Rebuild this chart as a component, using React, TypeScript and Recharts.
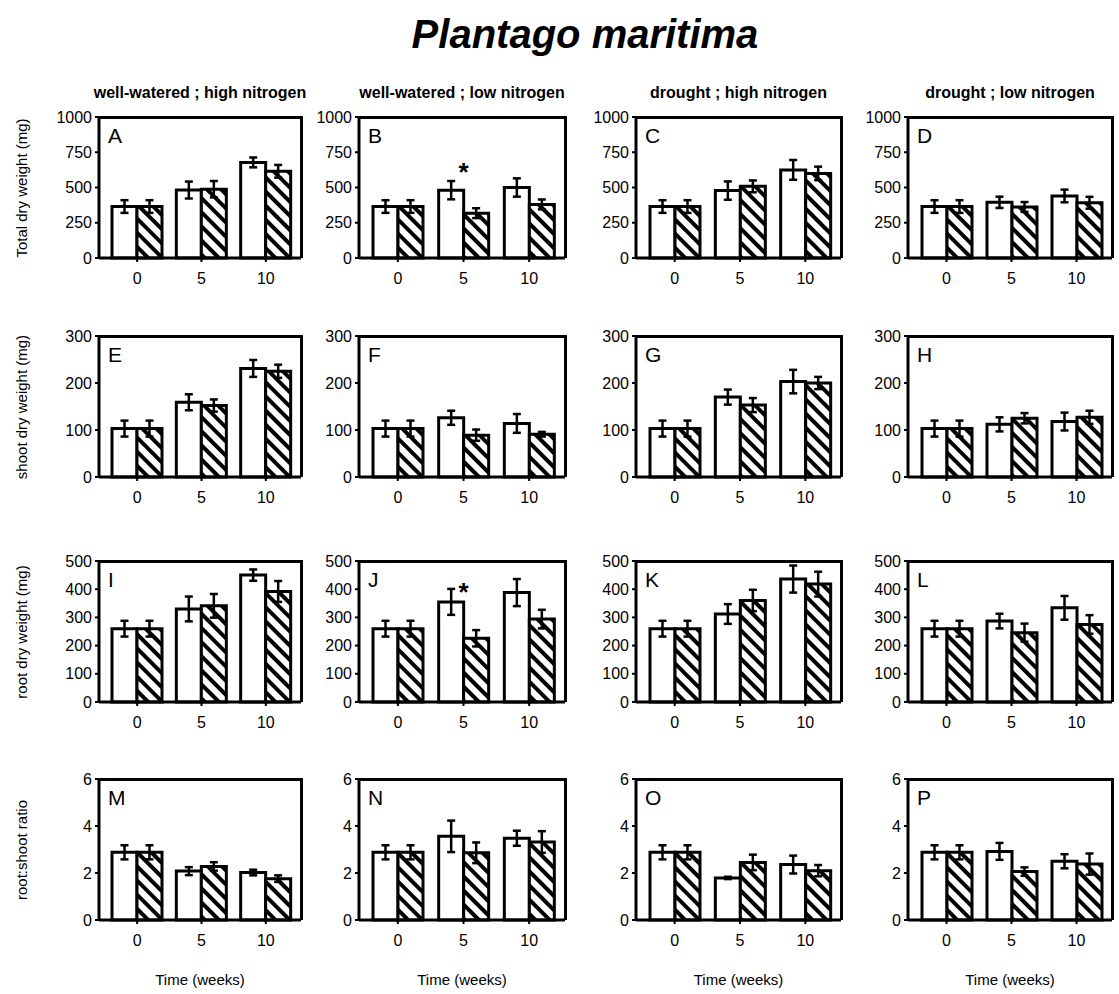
import React from "react";
import { BarChart, Bar, XAxis, YAxis, ErrorBar, ReferenceDot } from "recharts";

const weeks = ["0", "5", "10"];
const columnTitles = [
  "well-watered ; high nitrogen",
  "well-watered ; low nitrogen",
  "drought ; high nitrogen",
  "drought ; low nitrogen",
];
const panelLetters = [
  ["A", "B", "C", "D"],
  ["E", "F", "G", "H"],
  ["I", "J", "K", "L"],
  ["M", "N", "O", "P"],
];
const rowLabels = ["Total dry weight (mg)", "shoot dry weight (mg)", "root dry weight (mg)", "root:shoot ratio"];
const rowTicks = [
  [0, 250, 500, 750, 1000],
  [0, 100, 200, 300],
  [0, 100, 200, 300, 400, 500],
  [0, 2, 4, 6],
];

// one inner array per column (A..D, E..H, ...), values at weeks 0, 5, 10
const totalWhite = [[365, 482, 678], [365, 481, 500], [365, 478, 625], [365, 395, 440]];
const totalWhiteErr = [[45, 60, 35], [45, 65, 65], [45, 65, 70], [45, 40, 45]];
const totalHatch = [[365, 488, 615], [365, 318, 380], [365, 508, 600], [365, 362, 392]];
const totalHatchErr = [[45, 58, 45], [45, 35, 35], [45, 42, 48], [45, 35, 42]];

const shootWhite = [[103, 159, 231], [103, 126, 114], [103, 170, 203], [103, 112, 118]];
const shootWhiteErr = [[17, 17, 18], [17, 15, 20], [17, 16, 25], [17, 15, 19]];
const shootHatch = [[103, 152, 225], [103, 89, 91], [103, 153, 200], [103, 125, 127]];
const shootHatchErr = [[17, 13, 14], [17, 12, 5], [17, 15, 13], [17, 11, 14]];

const rootWhite = [[260, 330, 450], [260, 355, 388], [260, 312, 436], [260, 287, 334]];
const rootWhiteErr = [[28, 44, 20], [28, 46, 48], [28, 35, 48], [28, 26, 42]];
const rootHatch = [[260, 341, 392], [260, 226, 294], [260, 360, 418], [260, 246, 275]];
const rootHatchErr = [[28, 42, 37], [28, 29, 33], [28, 38, 44], [28, 32, 33]];

const ratioWhite = [[2.88, 2.08, 2.02], [2.88, 3.56, 3.48], [2.88, 1.79, 2.36], [2.88, 2.92, 2.5]];
const ratioWhiteErr = [[0.3, 0.17, 0.12], [0.3, 0.67, 0.32], [0.3, 0.05, 0.38], [0.3, 0.36, 0.3]];
const ratioHatch = [[2.88, 2.28, 1.76], [2.88, 2.86, 3.32], [2.88, 2.45, 2.1], [2.88, 2.06, 2.38]];
const ratioHatchErr = [[0.3, 0.18, 0.14], [0.3, 0.44, 0.46], [0.3, 0.33, 0.24], [0.3, 0.18, 0.45]];

const stars = [
  { row: 0, col: 1, week: "5", value: 640 },
  { row: 2, col: 1, week: "5", value: 405 },
];

const rowSeries = [
  [totalWhite, totalWhiteErr, totalHatch, totalHatchErr],
  [shootWhite, shootWhiteErr, shootHatch, shootHatchErr],
  [rootWhite, rootWhiteErr, rootHatch, rootHatchErr],
  [ratioWhite, ratioWhiteErr, ratioHatch, ratioHatchErr],
];

const FONT = "'Liberation Sans', Arial, sans-serif";
const colLeft = [99, 359, 636, 908];
const colWidth = [202, 206, 205, 204];
const rowTop = [117, 336, 561, 779];
const PLOT_H = 141;
const Y_W = 50;
const M_TOP = 12;
const M_RIGHT = 4;
const X_H = 32;

const Star = (props: any) => (
  <text x={props.cx} y={props.cy + 13} textAnchor="middle" fontSize={26} fontWeight="bold" fontFamily={FONT}>
    *
  </text>
);

const Panel = ({ r, c }: { r: number; c: number }) => {
  const [w, we, h, he] = rowSeries[r];
  const data = weeks.map((wk, i) => ({
    week: wk,
    white: w[c][i],
    whiteErr: we[c][i],
    hatch: h[c][i],
    hatchErr: he[c][i],
  }));
  const ticks = rowTicks[r];
  const pid = `hatch-${r}-${c}`;
  const axis = { stroke: "#000", strokeWidth: 3 };
  const tickStyle = { fontSize: 16, fill: "#000", fontFamily: FONT };
  return (
    <div style={{ position: "absolute", left: colLeft[c] - Y_W, top: rowTop[r] - M_TOP }}>
      <BarChart
        width={Y_W + colWidth[c] + M_RIGHT}
        height={M_TOP + PLOT_H + X_H}
        data={data}
        margin={{ top: M_TOP, right: M_RIGHT, left: 0, bottom: 0 }}
        barGap={0}
      >
        <defs>
          <pattern id={pid} patternUnits="userSpaceOnUse" width={10} height={10} patternTransform="rotate(-45)">
            <rect width={10} height={10} fill="#fff" />
            <rect width={4} height={10} fill="#000" />
          </pattern>
        </defs>
        <XAxis
          dataKey="week"
          padding={{ left: 6, right: 3 }}
          height={X_H}
          axisLine={axis}
          tickLine={{ stroke: "#000", strokeWidth: 2 }}
          tickSize={4}
          tickMargin={11}
          tick={tickStyle}
        />
        <YAxis
          domain={[ticks[0], ticks[ticks.length - 1]]}
          ticks={ticks}
          interval={0}
          width={Y_W}
          axisLine={axis}
          tickLine={{ stroke: "#000", strokeWidth: 2 }}
          tickSize={4}
          tickMargin={3}
          tick={tickStyle}
        />
        <Bar dataKey="white" barSize={25} fill="#fff" stroke="#000" strokeWidth={3} isAnimationActive={false}>
          <ErrorBar dataKey="whiteErr" width={4} stroke="#000" strokeWidth={2.5} isAnimationActive={false} />
        </Bar>
        <Bar dataKey="hatch" barSize={25} fill={`url(#${pid})`} stroke="#000" strokeWidth={3} isAnimationActive={false}>
          <ErrorBar dataKey="hatchErr" width={4} stroke="#000" strokeWidth={2.5} isAnimationActive={false} />
        </Bar>
        {stars
          .filter((s) => s.row === r && s.col === c)
          .map((s, i) => (
            <ReferenceDot key={i} x={s.week} y={s.value} r={0} shape={Star} />
          ))}
      </BarChart>
      {/* top and right frame of the plot area */}
      <div
        style={{
          position: "absolute",
          left: Y_W,
          top: M_TOP - 1.5,
          width: colWidth[c] + 1.5,
          height: PLOT_H + 1.5,
          boxSizing: "border-box",
          borderTop: "3px solid #000",
          borderRight: "3px solid #000",
          pointerEvents: "none",
        }}
      />
      <div
        style={{
          position: "absolute",
          left: Y_W + 9,
          top: M_TOP + 8,
          fontSize: 21,
          lineHeight: "21px",
          fontFamily: FONT,
        }}
      >
        {panelLetters[r][c]}
      </div>
    </div>
  );
};

export default function App() {
  return (
    <div
      style={{
        position: "absolute",
        left: 0,
        top: 0,
        width: 1119,
        height: 994,
        background: "#fff",
        fontFamily: FONT,
        color: "#000",
      }}
    >
      <div
        style={{
          position: "absolute",
          left: 335,
          width: 500,
          top: 14,
          textAlign: "center",
          fontSize: 40,
          lineHeight: "40px",
          fontWeight: "bold",
          fontStyle: "italic",
        }}
      >
        Plantago maritima
      </div>
      {columnTitles.map((t, c) => (
        <div
          key={t}
          style={{
            position: "absolute",
            left: colLeft[c] + colWidth[c] / 2 - 150,
            width: 300,
            top: 84,
            textAlign: "center",
            fontSize: 16,
            lineHeight: "18px",
            fontWeight: "bold",
          }}
        >
          {t}
        </div>
      ))}
      {rowLabels.map((t, r) => (
        <div
          key={t}
          style={{
            position: "absolute",
            left: 22 - 100,
            width: 200,
            top: rowTop[r] + PLOT_H / 2 - 9,
            height: 18,
            lineHeight: "18px",
            textAlign: "center",
            fontSize: 15,
            transform: "rotate(-90deg)",
          }}
        >
          {t}
        </div>
      ))}
      {rowTop.map((_, r) => colLeft.map((__, c) => <Panel key={`${r}-${c}`} r={r} c={c} />))}
      {colLeft.map((l, c) => (
        <div
          key={`t${c}`}
          style={{
            position: "absolute",
            left: l + colWidth[c] / 2 - 100,
            width: 200,
            top: 971,
            textAlign: "center",
            fontSize: 15,
            lineHeight: "18px",
          }}
        >
          Time (weeks)
        </div>
      ))}
    </div>
  );
}
